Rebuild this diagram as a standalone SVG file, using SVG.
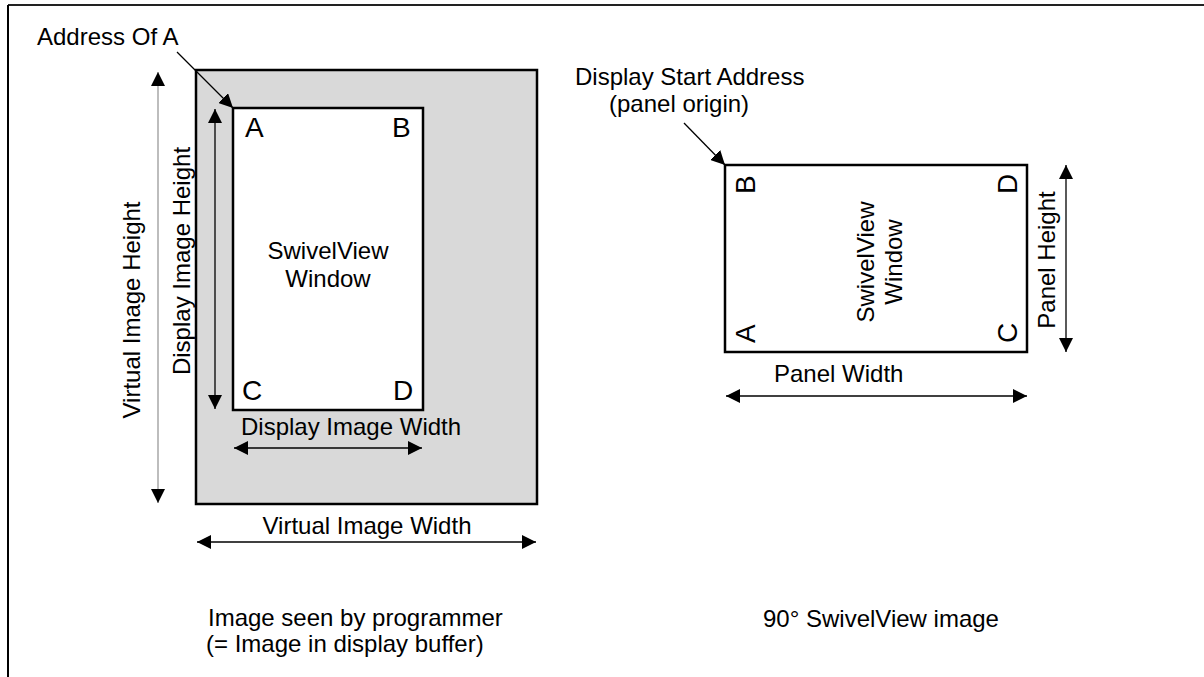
<svg xmlns="http://www.w3.org/2000/svg" width="1204" height="677" viewBox="0 0 1204 677">
<style>
text{font-family:"Liberation Sans",Arial,sans-serif;font-size:24px;fill:#000}
.big{font-size:28px}
.box{stroke:#000;stroke-width:2.5}
.ln{stroke:#000;stroke-width:1.3;fill:none}
.gl{stroke:#9a9a9a;stroke-width:1.3;fill:none}
</style>
<defs>
<marker id="ah" markerUnits="userSpaceOnUse" markerWidth="14" markerHeight="14" refX="14" refY="7" orient="auto-start-reverse">
<path d="M0,0 L14,7 L0,14 z" fill="#000"/>
</marker>
</defs>
<rect width="1204" height="677" fill="#fff"/>
<g id="frame">
<line x1="8" y1="5" x2="1204" y2="5" stroke="#222" stroke-width="2"/>
<line x1="8" y1="5" x2="8" y2="677" stroke="#000" stroke-width="2"/>
</g>
<g id="virtual-image">
<rect x="196" y="70" width="341" height="434" fill="#d9d9d9" class="box"/>
</g>
<g id="swivelview-window-left">
<rect x="233" y="108" width="190" height="302" fill="#fff" class="box"/>
<text class="big" x="245" y="137">A</text>
<text class="big" x="392" y="137">B</text>
<text class="big" x="242" y="400">C</text>
<text class="big" x="393" y="400">D</text>
<text x="328" y="259" text-anchor="middle">SwivelView</text>
<text x="328" y="287" text-anchor="middle">Window</text>
</g>
<g id="panel">
<rect x="725" y="165" width="302" height="187" fill="#fff" class="box"/>
<text class="big" transform="translate(755,194) rotate(-90)">B</text>
<text class="big" transform="translate(755,343) rotate(-90)">A</text>
<text class="big" transform="translate(1017,194) rotate(-90)">D</text>
<text class="big" transform="translate(1017,343) rotate(-90)">C</text>
<text transform="translate(874,262) rotate(-90)" text-anchor="middle">SwivelView</text>
<text transform="translate(902,262) rotate(-90)" text-anchor="middle">Window</text>
</g>
<g id="connectors">
<line class="ln" x1="177" y1="52" x2="233" y2="108" marker-end="url(#ah)"/>
<line class="gl" x1="158" y1="72" x2="158" y2="503" marker-start="url(#ah)" marker-end="url(#ah)"/>
<line class="ln" x1="215" y1="109" x2="215" y2="409" marker-start="url(#ah)" marker-end="url(#ah)"/>
<line class="ln" x1="234" y1="448" x2="422" y2="448" marker-start="url(#ah)" marker-end="url(#ah)"/>
<line class="ln" x1="197" y1="542" x2="536" y2="542" marker-start="url(#ah)" marker-end="url(#ah)"/>
<line class="ln" x1="684" y1="123" x2="725" y2="165" marker-end="url(#ah)"/>
<line class="ln" x1="1066" y1="165" x2="1066" y2="352" marker-start="url(#ah)" marker-end="url(#ah)"/>
<line class="ln" x1="726" y1="396" x2="1027" y2="396" marker-start="url(#ah)" marker-end="url(#ah)"/>
</g>
<g id="labels">
<text x="37" y="45">Address Of A</text>
<text transform="translate(140,310) rotate(-90)" text-anchor="middle">Virtual Image Height</text>
<text transform="translate(190,261) rotate(-90)" text-anchor="middle">Display Image Height</text>
<text x="241" y="435">Display Image Width</text>
<text x="367" y="534" text-anchor="middle">Virtual Image Width</text>
<text x="575" y="85">Display Start Address</text>
<text x="609" y="112">(panel origin)</text>
<text transform="translate(1055,260) rotate(-90)" text-anchor="middle">Panel Height</text>
<text x="774" y="382">Panel Width</text>
<text x="208" y="626">Image seen by programmer</text>
<text x="206" y="652">(= Image in display buffer)</text>
<text x="763" y="627">90° SwivelView image</text>
</g>
</svg>
